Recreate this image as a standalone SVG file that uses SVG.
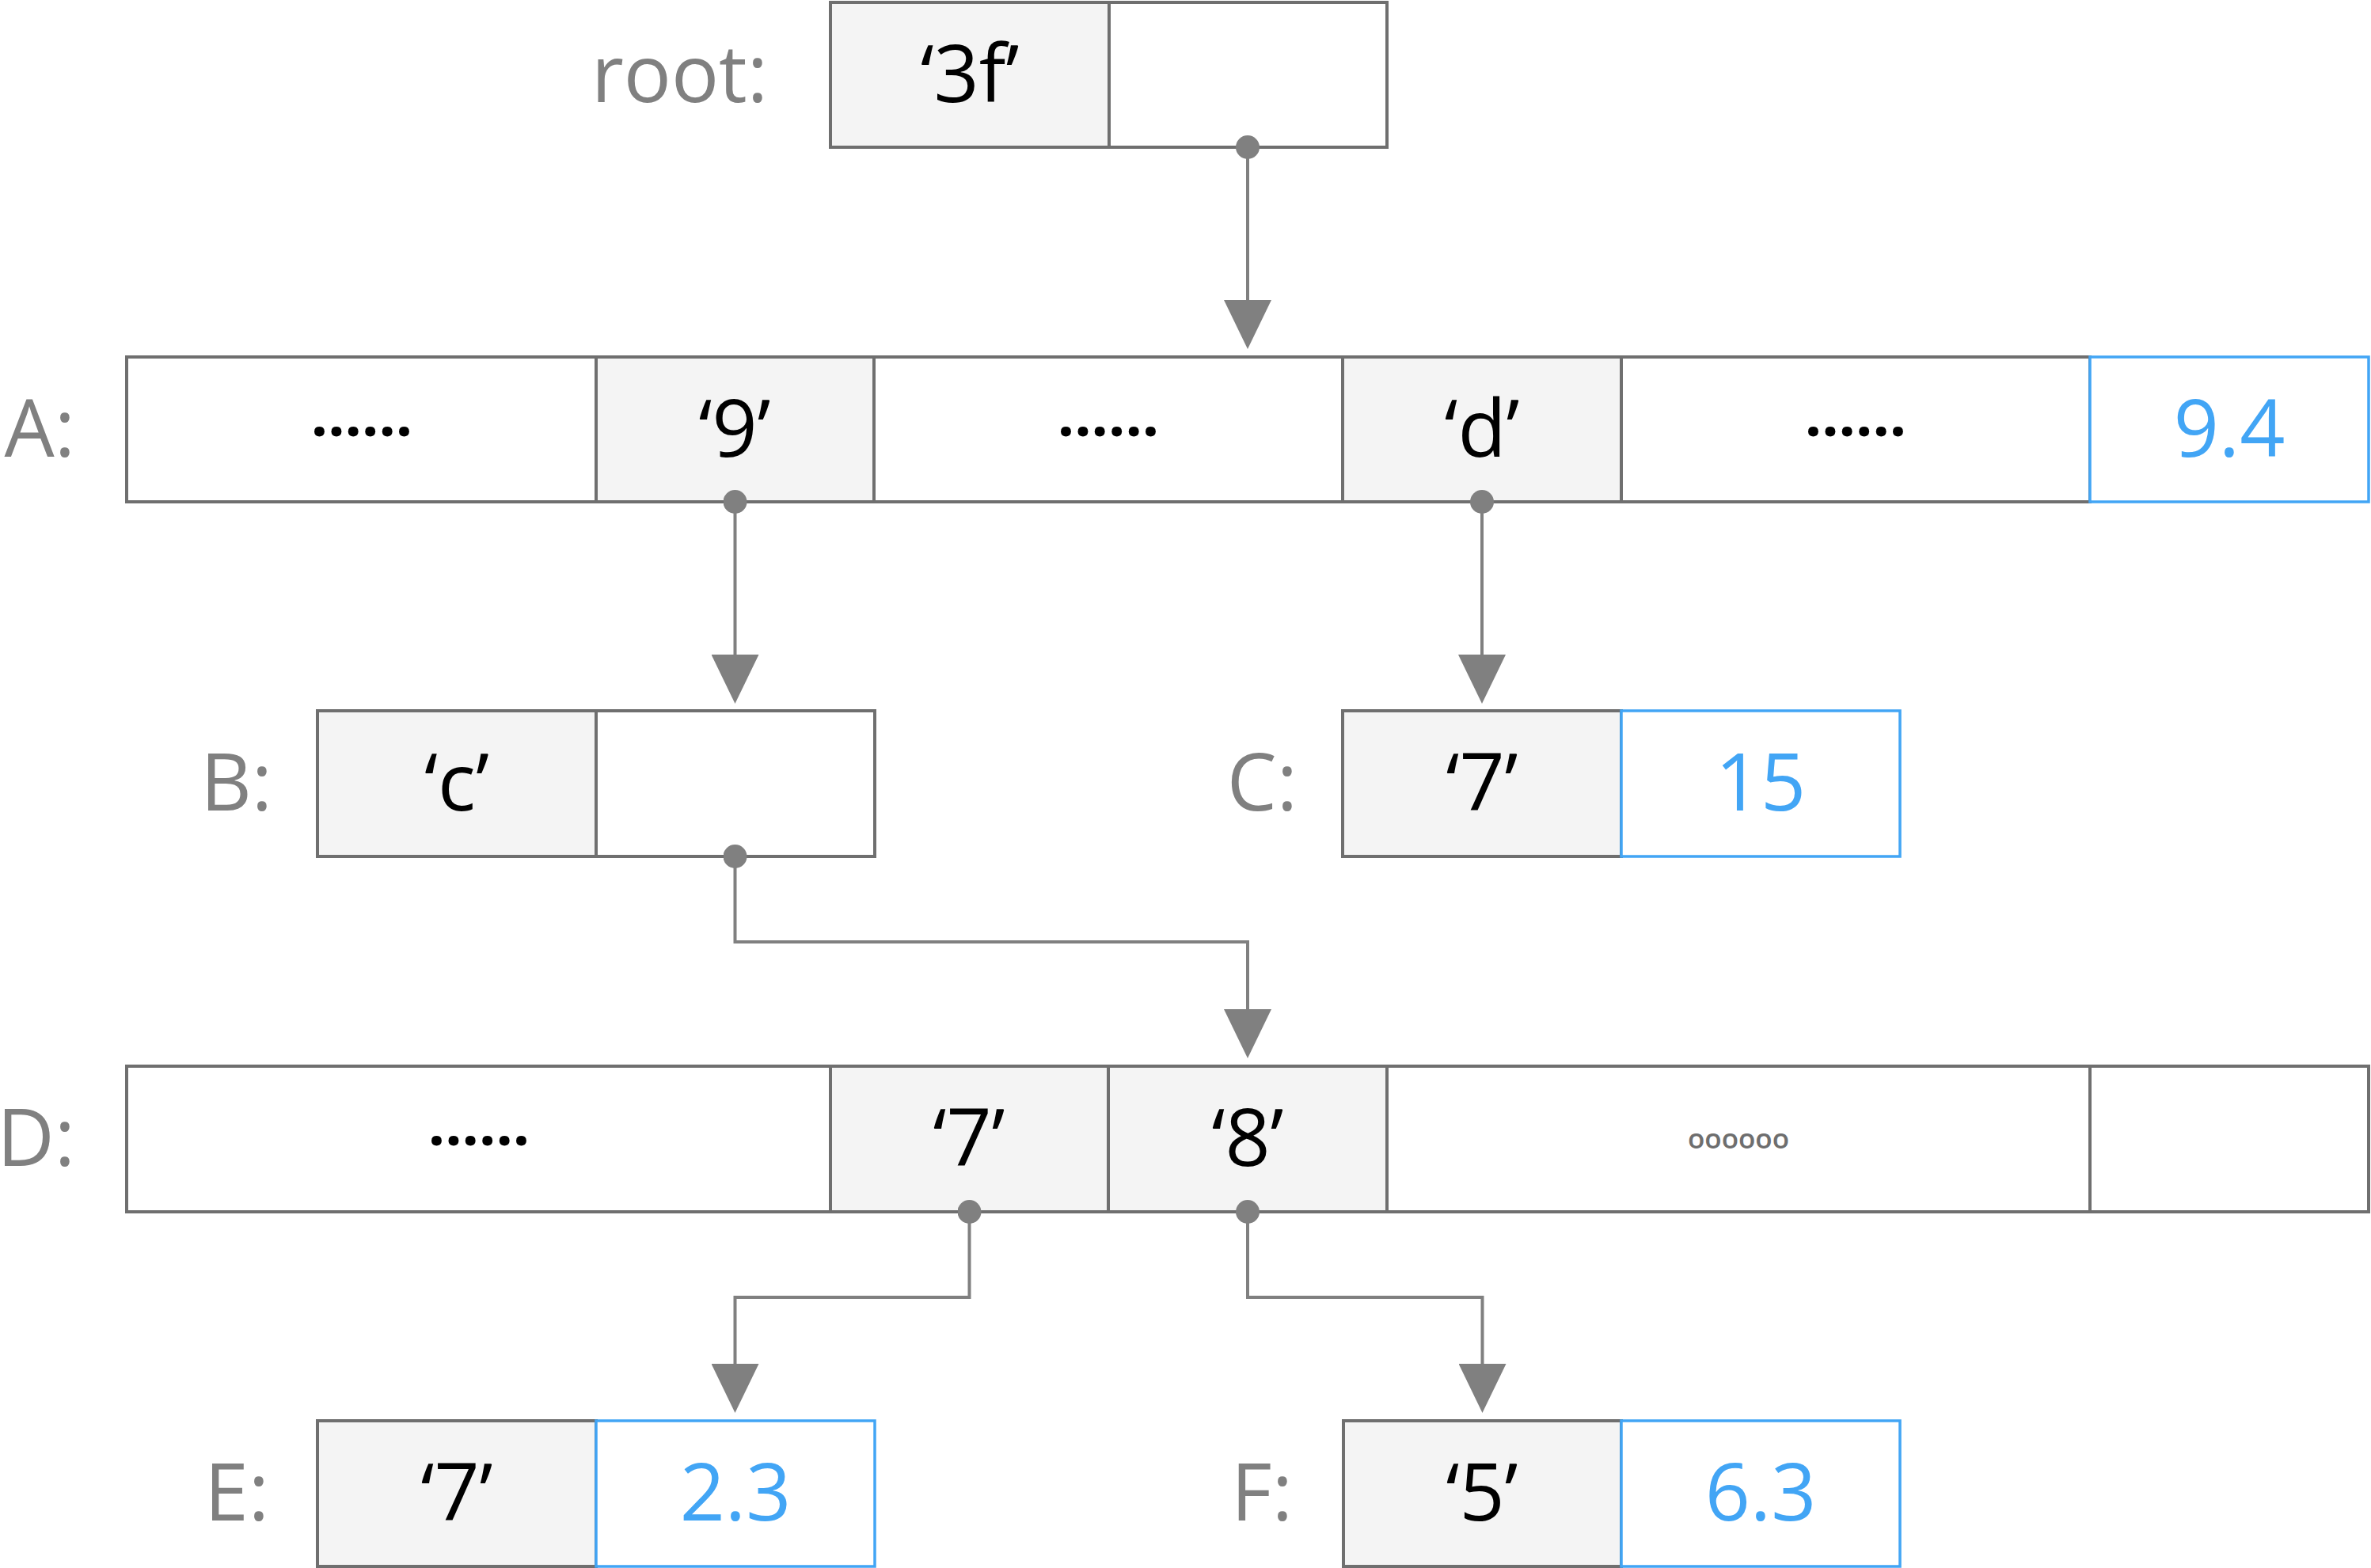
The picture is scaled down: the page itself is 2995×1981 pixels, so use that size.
<svg xmlns="http://www.w3.org/2000/svg" width="2995" height="1981" viewBox="0 0 2995 1981">
<style>
.c{fill:#ffffff;stroke:#6f6f6f;stroke-width:4}
.k{fill:#f4f4f4;stroke:#6f6f6f;stroke-width:4}
.v{fill:#ffffff;stroke:#42a5f5;stroke-width:3.5}
.t{font-family:"Open Sans","Noto Sans",sans-serif;font-size:100px;text-anchor:middle;fill:#000000}
.b{font-family:"Open Sans","Noto Sans",sans-serif;font-size:100px;text-anchor:middle;fill:#42a5f5}
.l{font-family:"Open Sans","Noto Sans",sans-serif;font-size:100px;text-anchor:end;fill:#808080}
.d{font-family:"Open Sans","Noto Sans",sans-serif;font-size:75px;font-weight:700;text-anchor:middle;fill:#000000}
.o{font-family:"Open Sans","Noto Sans",sans-serif;font-size:35px;font-weight:600;text-anchor:middle;fill:#6e6e6e}
.w{fill:none;stroke:#808080;stroke-width:4}
</style>
<defs>
<marker id="arr" markerUnits="userSpaceOnUse" viewBox="0 0 62 60" markerWidth="62" markerHeight="60" refX="2" refY="30" orient="auto">
<path d="M0,0 L62,30 L0,60 Z" fill="#808080"/>
</marker>
<marker id="dot" markerUnits="userSpaceOnUse" viewBox="0 0 30 30" markerWidth="30" markerHeight="30" refX="15" refY="15">
<circle cx="15" cy="15" r="15" fill="#808080"/>
</marker>
</defs>

<g id="root">
<text class="l" x="970" y="129">root:</text>
<rect class="k" x="1049" y="3" width="352" height="183"/>
<rect class="c" x="1401" y="3" width="351" height="183"/>
<text class="t" x="1225" y="129">‘3f’</text>
</g>

<g id="A">
<text class="l" x="95" y="577">A:</text>
<rect class="c" x="160" y="451" width="593" height="183"/>
<rect class="k" x="753" y="451" width="351" height="183"/>
<rect class="c" x="1104" y="451" width="592" height="183"/>
<rect class="k" x="1696" y="451" width="352" height="183"/>
<rect class="c" x="2048" y="451" width="592" height="183"/>
<rect class="v" x="2640" y="451" width="352" height="183"/>
<text class="d" x="457" y="551">......</text>
<text class="t" x="928" y="577">‘9’</text>
<text class="d" x="1400" y="551">......</text>
<text class="t" x="1872" y="577">‘d’</text>
<text class="d" x="2344" y="551">......</text>
<text class="b" x="2816" y="577">9.4</text>
</g>

<g id="B">
<text class="l" x="344" y="1024">B:</text>
<rect class="k" x="401" y="898" width="352" height="184"/>
<rect class="c" x="753" y="898" width="352" height="184"/>
<text class="t" x="577" y="1024">‘c’</text>
</g>

<g id="C">
<text class="l" x="1639" y="1024">C:</text>
<rect class="k" x="1696" y="898" width="352" height="184"/>
<rect class="v" x="2048" y="898" width="352" height="184"/>
<text class="t" x="1872" y="1024">‘7’</text>
<text class="b" x="2224" y="1024">15</text>
</g>

<g id="D">
<text class="l" x="95" y="1473">D:</text>
<rect class="c" x="160" y="1347" width="889" height="184"/>
<rect class="k" x="1049" y="1347" width="351" height="184"/>
<rect class="k" x="1400" y="1347" width="352" height="184"/>
<rect class="c" x="1752" y="1347" width="888" height="184"/>
<rect class="c" x="2640" y="1347" width="352" height="184"/>
<text class="d" x="605" y="1447">......</text>
<text class="t" x="1224" y="1473">‘7’</text>
<text class="t" x="1576" y="1473">‘8’</text>
<text class="o" x="2196" y="1451">oooooo</text>
</g>

<g id="E">
<text class="l" x="340" y="1921">E:</text>
<rect class="k" x="401" y="1795" width="352" height="184"/>
<rect class="v" x="753" y="1795" width="352" height="184"/>
<text class="t" x="577" y="1921">‘7’</text>
<text class="b" x="929" y="1921">2.3</text>
</g>

<g id="F">
<text class="l" x="1633" y="1921">F:</text>
<rect class="k" x="1697" y="1795" width="351" height="184"/>
<rect class="v" x="2048" y="1795" width="352" height="184"/>
<text class="t" x="1872" y="1921">‘5’</text>
<text class="b" x="2224" y="1921">6.3</text>
</g>

<g id="connectors">
<path class="w" d="M1576,186 L1576,381" marker-start="url(#dot)" marker-end="url(#arr)"/>
<path class="w" d="M928.5,634 L928.5,829" marker-start="url(#dot)" marker-end="url(#arr)"/>
<path class="w" d="M1872,634 L1872,829" marker-start="url(#dot)" marker-end="url(#arr)"/>
<path class="w" d="M928.5,1082 L928.5,1190 L1576,1190 L1576,1277" marker-start="url(#dot)" marker-end="url(#arr)"/>
<path class="w" d="M1224.5,1531 L1224.5,1639 L928.5,1639 L928.5,1725" marker-start="url(#dot)" marker-end="url(#arr)"/>
<path class="w" d="M1576,1531 L1576,1639 L1872.5,1639 L1872.5,1725" marker-start="url(#dot)" marker-end="url(#arr)"/>
</g>
</svg>
